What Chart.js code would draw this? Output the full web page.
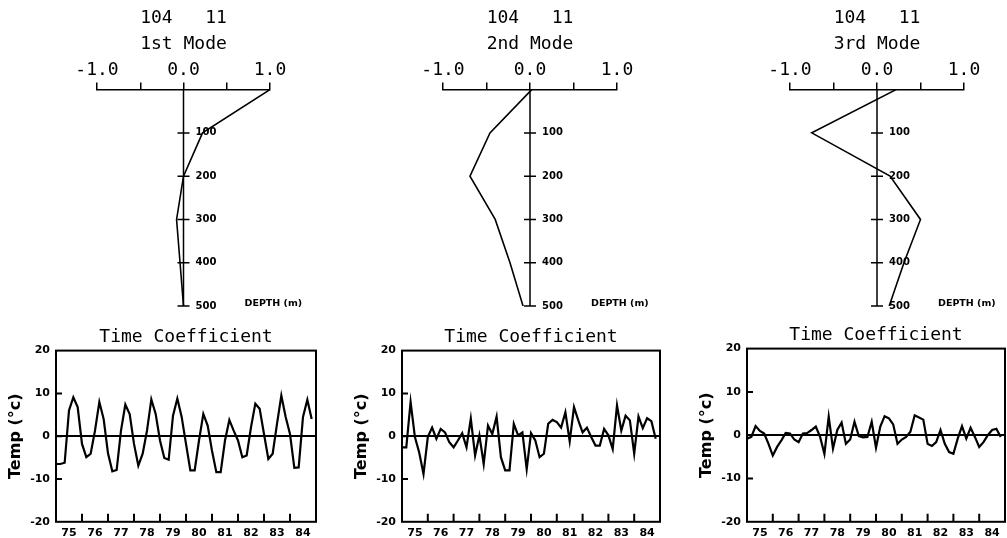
<!DOCTYPE html>
<html>
<head>
<meta charset="utf-8">
<title>104 11 - Modes and Time Coefficients</title>
<script src="https://cdn.jsdelivr.net/npm/chart.js@4.4.1/dist/chart.umd.min.js"></script>
<style>
  html, body { margin: 0; padding: 0; background: #fff; overflow: hidden; }
  body { width: 1007px; height: 538px; position: relative; }
  canvas { position: absolute; }
</style>
</head>
<body>
<canvas id="mode1" width="330" height="320" style="left:0px;top:0px"></canvas>
<canvas id="mode2" width="330" height="320" style="left:335px;top:0px"></canvas>
<canvas id="mode3" width="337" height="320" style="left:670px;top:0px"></canvas>
<canvas id="coef1" width="330" height="221" style="left:0px;top:324px"></canvas>
<canvas id="coef2" width="330" height="221" style="left:340px;top:324px"></canvas>
<canvas id="coef3" width="317" height="223" style="left:690px;top:322px"></canvas>
<script>
// vertical mode shapes (amplitude at each depth, m)
const depths = [0, 100, 200, 300, 400, 500];
const depthTicks = [100, 200, 300, 400, 500];
const mode1 = [1.0, 0.22, 0.0, -0.08, -0.04, 0.0];
const mode2 = [0.02, -0.46, -0.69, -0.40, -0.23, -0.08];
const mode3 = [0.22, -0.75, 0.15, 0.50, 0.31, 0.14];

// time coefficients, bimonthly 1975-1984
const years = [1975, 1976, 1977, 1978, 1979, 1980, 1981, 1982, 1983, 1984];
const yearLabels = ["75", "76", "77", "78", "79", "80", "81", "82", "83", "84"];
const samplesPerYear = 6;
const tempTicks = [20, 10, 0, -10, -20];

const coef1 = [
  -6.5, -6.5, -6.2, 6.0, 9.1, 6.8,
  -1.8, -4.9, -4.1, 1.3, 8.0, 4.0,
  -4.0, -8.2, -7.9, 1.3, 7.4, 5.2,
  -1.8, -6.9, -4.1, 1.3, 8.6, 5.2,
  -1.0, -5.1, -5.5, 4.8, 8.8, 4.5,
  -1.8, -8.0, -8.0, -1.0, 5.2, 2.5,
  -3.4, -8.4, -8.4, -1.0, 3.8, 1.3,
  -1.0, -4.9, -4.5, 2.1, 7.6, 6.4,
  0.5, -5.3, -4.1, 2.9, 9.5, 4.5,
  0.5, -7.4, -7.3, 4.5, 8.5, 4.0,
];
const coef2 = [
  -2.6, -2.6, 8.0, -0.2, -3.8, -8.8,
  -0.2, 2.0, -0.6, 1.7, 0.9, -1.4,
  -2.6, -1.0, 0.7, -2.6, 4.1, -4.5,
  0.2, -6.5, 2.5, 0.5, 4.6, -4.9,
  -8.0, -8.0, 2.9, 0.2, 0.9, -7.7,
  0.7, -1.0, -4.9, -4.1, 2.9, 3.8,
  3.3, 2.0, 5.6, -1.2, 6.8, 3.7,
  0.9, 2.0, -0.2, -2.2, -2.2, 1.7,
  0.2, -3.0, 7.2, 1.3, 4.8, 3.7,
  -4.1, 4.6, 1.9, 4.2, 3.5, -0.6,
];
const coef3 = [
  -0.8, -0.4, 2.1, 1.0, 0.4, -2.0,
  -4.7, -2.7, -1.2, 0.5, 0.4, -1.0,
  -1.6, 0.4, 0.5, 1.2, 2.0, -0.4,
  -4.3, 4.3, -3.1, 1.2, 2.9, -2.0,
  -1.0, 3.1, -0.2, -0.5, -0.4, 3.1,
  -2.9, 2.0, 4.4, 3.9, 2.5, -2.0,
  -1.0, -0.4, 0.8, 4.6, 4.1, 3.6,
  -2.0, -2.5, -1.6, 1.2, -2.0, -3.9,
  -4.3, -0.8, 2.1, -0.8, 1.7, -0.4,
  -2.7, -1.6, 0.0, 1.2, 1.5, -0.4,
];

Chart.defaults.font.family = "DejaVu Sans";
Chart.defaults.color = "#000";

const monoFont = { family: "DejaVu Sans Mono", size: 18, weight: "normal" };
const boldSmall = { family: "DejaVu Sans", size: 11, weight: "bold" };

// depth axis drawn at x = 0 of the value scale
const profileAxis = {
  id: "profileAxis",
  afterDatasetsDraw(chart) {
    const { ctx, scales: { x, y } } = chart;
    const x0 = x.getPixelForValue(0);
    ctx.save();
    ctx.strokeStyle = "#000";
    ctx.lineWidth = 1.5;
    ctx.beginPath();
    ctx.moveTo(x0, y.getPixelForValue(depths[0]));
    ctx.lineTo(x0, y.getPixelForValue(depths[depths.length - 1]));
    depthTicks.forEach(function (d) {
      const py = y.getPixelForValue(d);
      ctx.moveTo(x0 - 6, py);
      ctx.lineTo(x0 + 6, py);
    });
    ctx.stroke();
    ctx.fillStyle = "#000";
    ctx.textBaseline = "middle";
    ctx.textAlign = "left";
    ctx.font = 'bold 10px "DejaVu Sans"';
    depthTicks.forEach(function (d) {
      ctx.fillText(String(d), x0 + 12, y.getPixelForValue(d));
    });
    ctx.font = 'bold 9.5px "DejaVu Sans"';
    ctx.fillText("DEPTH (m)", x0 + 61, y.getPixelForValue(depths[depths.length - 1]) - 2);
    ctx.restore();
  },
};

// box, inner ticks and year marks for the time series
const coefFrame = {
  id: "coefFrame",
  afterDatasetsDraw(chart) {
    const { ctx, chartArea: a, scales: { x, y } } = chart;
    ctx.save();
    ctx.strokeStyle = "#000";
    ctx.lineWidth = 2;
    ctx.strokeRect(a.left, a.top, a.width, a.height);
    ctx.beginPath();
    years.slice(1).forEach(function (yr) {
      const px = x.getPixelForValue(yr);
      ctx.moveTo(px, a.bottom);
      ctx.lineTo(px, a.bottom - 8);
    });
    tempTicks.slice(1, -1).forEach(function (v) {
      const py = y.getPixelForValue(v);
      ctx.moveTo(a.left, py);
      ctx.lineTo(a.left + 6, py);
    });
    ctx.stroke();
    ctx.restore();
  },
};

function makeProfile(id, modeName, values, pad) {
  return new Chart(id, {
    type: "scatter",
    data: {
      datasets: [
        {
          data: depths.map(function (d, i) {
            return { x: values[i], y: d };
          }),
          showLine: true,
          borderColor: "#000",
          borderWidth: 1.6,
          pointRadius: 0,
        },
      ],
    },
    options: {
      responsive: false,
      animation: false,
      events: [],
      layout: { padding: { left: pad.left, right: pad.right, top: 0, bottom: 14 } },
      plugins: {
        legend: { display: false },
        tooltip: { enabled: false },
        title: {
          display: true,
          fullSize: false,
          text: ["104   11", modeName],
          color: "#000",
          font: { family: "DejaVu Sans Mono", size: 18, weight: "normal", lineHeight: 26 / 18 },
          padding: { top: 5, bottom: 2 },
        },
      },
      scales: {
        x: {
          type: "linear",
          position: "top",
          min: -1,
          max: 1,
          ticks: {
            stepSize: 0.5,
            autoSkip: false,
            maxRotation: 0,
            padding: 1,
            color: "#000",
            font: monoFont,
            callback: function (v) {
              return Number.isInteger(v) ? v.toFixed(1) : "";
            },
          },
          grid: { drawOnChartArea: false, drawTicks: true, tickLength: 7, color: "#000", lineWidth: 1.5 },
          border: { display: true, color: "#000", width: 1.5 },
        },
        y: { type: "linear", display: false, min: 0, max: 500, reverse: true },
      },
    },
    plugins: [profileAxis],
  });
}

function makeCoef(id, values, pad) {
  return new Chart(id, {
    type: "line",
    data: {
      datasets: [
        {
          data: values.map(function (v, i) {
            return { x: years[0] + i / samplesPerYear, y: v };
          }),
          borderColor: "#000",
          borderWidth: 2.2,
          pointRadius: 0,
          tension: 0,
        },
      ],
    },
    options: {
      responsive: false,
      animation: false,
      events: [],
      layout: { padding: { left: pad.left, right: pad.right, top: 0, bottom: 0 } },
      plugins: {
        legend: { display: false },
        tooltip: { enabled: false },
        title: {
          display: true,
          fullSize: false,
          text: "Time Coefficient",
          color: "#000",
          font: { family: "DejaVu Sans Mono", size: 18, weight: "normal", lineHeight: 1.2 },
          padding: { top: 3, bottom: 2 },
        },
      },
      scales: {
        x: {
          type: "linear",
          min: years[0],
          max: years[years.length - 1] + 1,
          afterBuildTicks: function (scale) {
            scale.ticks = years.map(function (yr) {
              return { value: yr + 0.5 };
            });
          },
          ticks: {
            autoSkip: false,
            maxRotation: 0,
            padding: 5,
            color: "#000",
            font: boldSmall,
            callback: function (v, i) {
              return yearLabels[i];
            },
          },
          grid: { display: false, drawTicks: false },
          border: { display: false },
        },
        y: {
          min: tempTicks[tempTicks.length - 1],
          max: tempTicks[0],
          afterFit: function (scale) {
            scale.width = 50;
          },
          ticks: { stepSize: 10, padding: 6, color: "#000", font: boldSmall },
          grid: {
            drawTicks: false,
            lineWidth: 2,
            color: function (c) {
              return c.tick && c.tick.value === 0 ? "#000" : "rgba(0,0,0,0)";
            },
          },
          border: { display: false },
          title: {
            display: true,
            text: "Temp (°c)",
            color: "#000",
            padding: 0,
            font: { family: "DejaVu Sans", size: 16, weight: "bold" },
          },
        },
      },
    },
    plugins: [coefFrame],
  });
}

makeProfile("mode1", "1st Mode", mode1, { left: 97, right: 60 });
makeProfile("mode2", "2nd Mode", mode2, { left: 108, right: 48 });
makeProfile("mode3", "3rd Mode", mode3, { left: 120, right: 43 });

makeCoef("coef1", coef1, { left: 6, right: 14 });
makeCoef("coef2", coef2, { left: 12, right: 10 });
makeCoef("coef3", coef3, { left: 7, right: 2 });
</script>
</body>
</html>
